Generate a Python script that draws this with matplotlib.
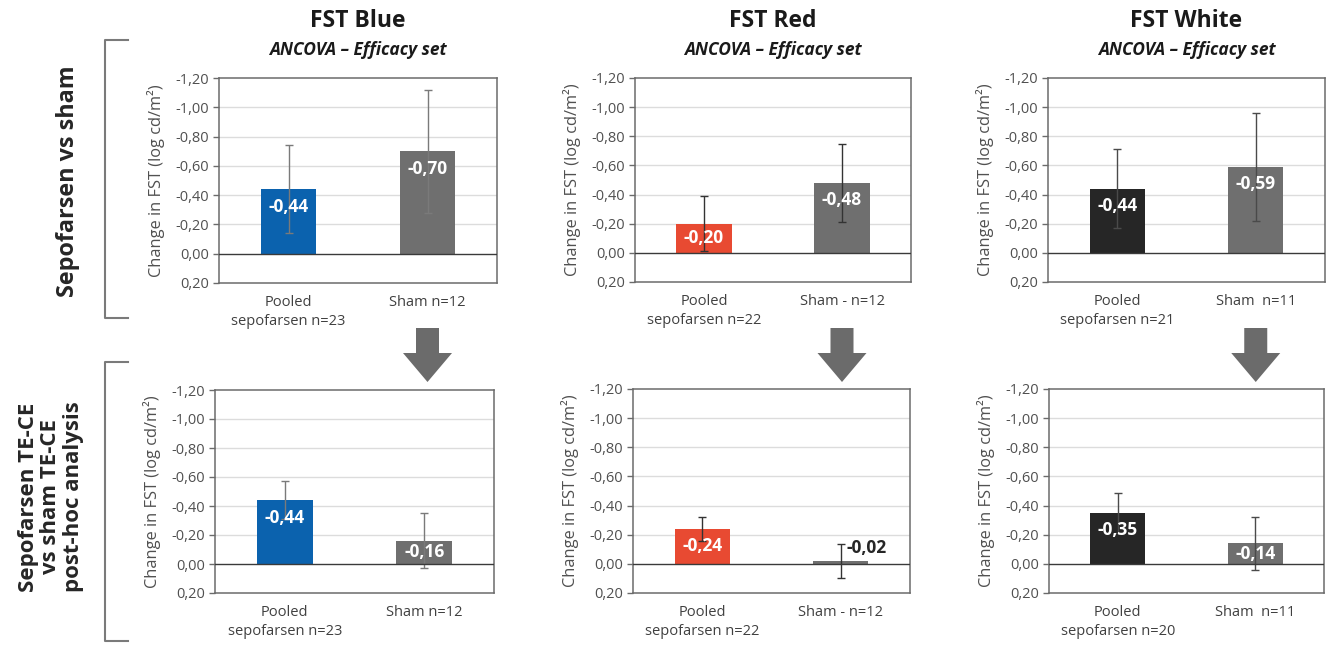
import numpy as np
import matplotlib
matplotlib.use("Agg")
import matplotlib.pyplot as plt
from matplotlib.patches import Polygon
from matplotlib.lines import Line2D

plt.rcParams['font.family'] = ['Open Sans', 'DejaVu Sans']

# ---------------- data ----------------
panel_titles = ["FST Blue", "FST Red", "FST White"]
subtitle = "ANCOVA \u2013 Efficacy set"
row_labels = ["Sepofarsen vs sham", "Sepofarsen TE-CE\nvs sham TE-CE\npost-hoc analysis"]

categories_top = [["Pooled\nsepofarsen n=23", "Sham n=12"],
                  ["Pooled\nsepofarsen n=22", "Sham - n=12"],
                  ["Pooled\nsepofarsen n=21", "Sham  n=11"]]
categories_bottom = [["Pooled\nsepofarsen n=23", "Sham n=12"],
                     ["Pooled\nsepofarsen n=22", "Sham - n=12"],
                     ["Pooled\nsepofarsen n=20", "Sham  n=11"]]

blue_top = [-0.44, -0.70]
red_top = [-0.20, -0.48]
white_top = [-0.44, -0.59]
blue_top_err = [0.30, 0.42]
red_top_err = [0.19, 0.265]
white_top_err = [0.27, 0.37]

blue_bottom = [-0.44, -0.16]
red_bottom = [-0.24, -0.02]
white_bottom = [-0.35, -0.14]
blue_bottom_err = [0.13, 0.19]
red_bottom_err = [0.085, 0.115]
white_bottom_err = [0.135, 0.185]

y_ticks = [-1.2, -1.0, -0.8, -0.6, -0.4, -0.2, 0.0, 0.2]
y_label = "Change in FST (log cd/m\u00b2)"

# ---------------- style ----------------
W, H = 1334, 650
fig = plt.figure(figsize=(W / 100, H / 100), dpi=100)
fig.patch.set_facecolor("white")

treat_colors = ["#0B62AE", "#E84A32", "#262626"]
sham_color = "#6F6F6F"
err_colors = ["#7a7a7a", "#333333", "#4a4a4a"]
frame_color = "#6b6b6b"

top_boxes = [(219, 497, 78, 283), (635, 911, 78, 282), (1048, 1325, 78, 282)]
bot_boxes = [(215, 494, 390, 593), (633, 910, 389, 593), (1049, 1324, 389, 593)]


def add_px_axes(l, r, t, b):
    return fig.add_axes([l / W, 1 - b / H, (r - l) / W, (b - t) / H])


def fmt(v):
    v = round(v, 2)
    if v == 0:
        v = 0.0
    return f"{v:.2f}".replace(".", ",")


def draw_panel(box, values, errs, cats, tcolor, ecolor):
    ax = add_px_axes(*box)
    x = np.arange(len(values))
    ax.set_xlim(-0.5, len(values) - 0.5)
    ax.set_ylim(0.2, -1.2)
    for yv in y_ticks[1:-1]:
        if abs(yv) < 1e-9:
            continue
        ax.axhline(yv, color="#dcdcdc", lw=1.0, zorder=0)
    ax.bar(x, values, width=0.4, color=[tcolor, sham_color], zorder=2)
    ax.errorbar(x, values, yerr=errs, fmt="none", ecolor=ecolor, elinewidth=1.0,
                capsize=3, capthick=1.0, zorder=3)
    ax.axhline(0, color="#3a3a3a", lw=1.0, zorder=4)
    for xi, v in zip(x, values):
        if abs(v) < 0.05:
            ax.text(xi + 0.04, v - 0.09, fmt(v), ha="left", va="center",
                    color="#262626", fontsize=12.5, fontweight="bold", zorder=5)
        else:
            ax.text(xi, v + min(0.12, abs(v) / 2), fmt(v), ha="center", va="center",
                    color="white", fontsize=12.5, fontweight="bold", zorder=5)
    ax.set_yticks(y_ticks)
    ax.set_yticklabels([fmt(t) for t in y_ticks], fontsize=10.5, color="#505050")
    ax.tick_params(axis="y", length=4, width=1, color=frame_color, pad=3)
    ax.set_xticks(x)
    ax.set_xticklabels(cats, fontsize=10.5, color="#404040", linespacing=1.35)
    ax.tick_params(axis="x", length=0, pad=9)
    for s in ax.spines.values():
        s.set_color(frame_color)
        s.set_linewidth(1.1)
    l, r, t, b = box
    fig.text((l - 63) / W, 1 - ((t + b) / 2) / H, y_label, rotation=90,
             ha="center", va="center", fontsize=11.8, color="#505050")
    return ax


top_vals = [blue_top, red_top, white_top]
top_errs = [blue_top_err, red_top_err, white_top_err]
bot_vals = [blue_bottom, red_bottom, white_bottom]
bot_errs = [blue_bottom_err, red_bottom_err, white_bottom_err]

top_axes = []
for i in range(3):
    top_axes.append(draw_panel(top_boxes[i], top_vals[i], top_errs[i],
                               categories_top[i], treat_colors[i], err_colors[i]))
    draw_panel(bot_boxes[i], bot_vals[i], bot_errs[i],
               categories_bottom[i], treat_colors[i], err_colors[i])

# titles
for i, (l, r, t, b) in enumerate(top_boxes):
    cx = (l + r) / 2 / W
    fig.text(cx, 1 - 21 / H, panel_titles[i], ha="center", va="center",
             fontsize=16.5, fontweight="bold", color="#1a1a1a")
    fig.text(cx, 1 - 50 / H, subtitle, ha="center", va="center",
             fontsize=12.5, fontweight="bold", fontstyle="italic", color="#1a1a1a")

# arrows under the sham bars
for ax in top_axes:
    xc = ax.transData.transform((1, 0))[0]
    pts_px = [(xc - 11.5, 328), (xc + 11.5, 328), (xc + 11.5, 353), (xc + 24.5, 353),
              (xc, 382), (xc - 24.5, 353), (xc - 11.5, 353)]
    pts = [(px / W, 1 - py / H) for px, py in pts_px]
    fig.patches.append(Polygon(pts, closed=True, transform=fig.transFigure,
                               facecolor="#6b6b6b", edgecolor="none"))

# brackets
for (t, b) in [(40, 318), (362, 641)]:
    xs = [128 / W, 105 / W, 105 / W, 128 / W]
    ys = [1 - t / H, 1 - t / H, 1 - b / H, 1 - b / H]
    fig.add_artist(Line2D(xs, ys, transform=fig.transFigure, color="#7a7a7a", lw=1.5))

# row labels
fig.text(68 / W, 1 - 181 / H, row_labels[0], rotation=90, ha="center", va="center",
         fontsize=16.8, fontweight="bold", color="#262626")
fig.text(51 / W, 1 - 497 / H, row_labels[1], rotation=90, ha="center", va="center",
         multialignment="center", fontsize=16, fontweight="bold", color="#262626",
         linespacing=1.12)

fig.savefig("out.png", dpi=100)
